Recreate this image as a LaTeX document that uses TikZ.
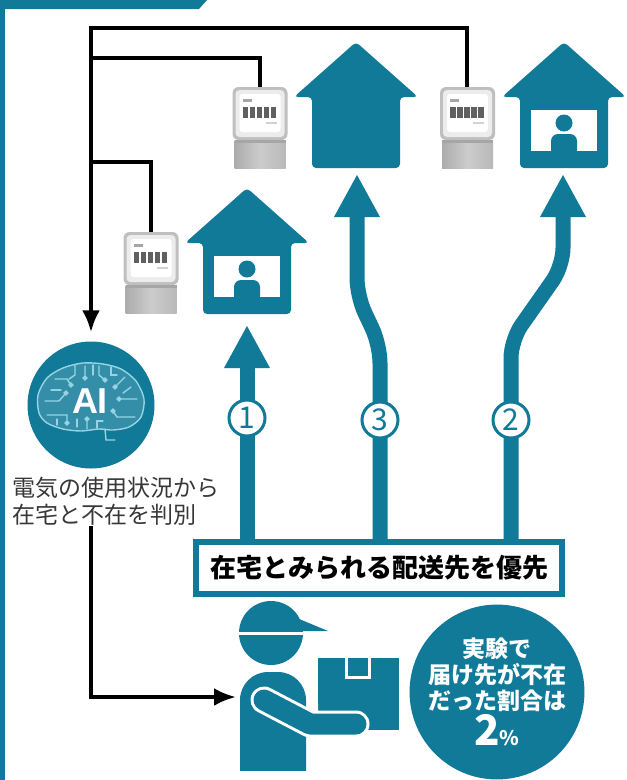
\documentclass[tikz,border=0pt]{standalone}
\usepackage{fontspec}
\usetikzlibrary{arrows.meta}

\newfontfamily\jp{Noto Sans CJK JP}
\newfontfamily\latin{Liberation Sans}

\definecolor{mainteal}{RGB}{16,122,152}
\definecolor{circuit}{RGB}{150,212,228}
\definecolor{inkgray}{RGB}{55,55,55}

\begin{document}
\begin{tikzpicture}[x = 1pt, y = -1pt, > = {Latex[length=22pt, width=18pt]},
	wire/.style = {draw = black, line width = 4pt},
	flow/.style = {draw = mainteal, line width = 15pt, rounded corners = 18pt},
	num/.style = {circle, draw = mainteal, line width = 3pt, fill = white, text = mainteal,
		minimum size = 36pt, inner sep = 0pt, font = \jp\fontsize{30}{30}\selectfont},
	brain/.style = {draw = circuit, line width = 1.4pt, line cap = round},
	house/.pic = {
		\fill [mainteal, rounded corners = 4pt] (0, 0) -- (62, 55) -- (44, 55) -- (44, 126)
			-- (-44, 126) -- (-44, 55) -- (-62, 55) -- cycle;
	},
	home/.pic = {
		\pic {house};
		\fill [white] (-33, 68) rectangle (33, 109);
		\fill [mainteal] (0, 81) circle (8.5pt);
		\fill [mainteal, rounded corners = 7pt] (-13, 115) rectangle (13, 92);
	},
	meter/.pic = {
		\fill [gray!50, rounded corners = 6pt] (-27, 0) rectangle (28, 53);
		\fill [gray!15, rounded corners = 4pt] (-24, 3) rectangle (25, 50);
		\fill [white, rounded corners = 3pt] (-20, 7) rectangle (21, 45);
		\fill [gray!70] (-17, 12) rectangle (-8, 15);
		\foreach \d in {0, 1, ..., 4}
			\fill [gray!75!black] ({-17 + 7 * \d}, 20) rectangle ++(5.5, 11);
		\fill [gray!35] (6, 35) rectangle (17, 37);
		\shade [left color = gray!65, right color = gray!55, middle color = gray!40] (-25, 53) rectangle (26, 81);
		\fill [gray!70] (-25, 53) rectangle (26, 56);
	}]

	% Frame

	\useasboundingbox (0, 0) rectangle (627, 780);
	\fill [white] (0, 0) rectangle (627, 780);
	\fill [mainteal] (0, 0) -- (207, 0) -- (199, 9) -- (0, 9) -- cycle;
	\fill [mainteal] (0, 0) rectangle (5, 780);

	% Anchors for the wiring

	\coordinate (mA) at (259.5, 89);
	\coordinate (mB) at (467, 89);
	\coordinate (mC) at (150.5, 234);
	\coordinate (top1) at (0, 28);
	\coordinate (top2) at (0, 58);
	\coordinate (top3) at (0, 162);

	% AI

	\node [circle, fill = mainteal, minimum size = 127pt, inner sep = 0pt] (ai) at (91, 405) {};

	\begin{scope}[shift = {(ai.center)}]
		\fill [mainteal!85!white] plot [smooth cycle] coordinates {(-52, 8) (-53, -10) (-44, -27) (-28, -37)
			(-8, -42) (12, -41) (30, -36) (45, -24) (53, -6) (50, 12) (38, 22) (22, 25)
			(8, 24) (-10, 26) (-28, 24) (-44, 18)};
		\draw [brain] plot [smooth cycle] coordinates {(-52, 8) (-53, -10) (-44, -27) (-28, -37)
			(-8, -42) (12, -41) (30, -36) (45, -24) (53, -6) (50, 12) (38, 22) (22, 25)
			(8, 24) (-10, 26) (-28, 24) (-44, 18)};
		\draw [brain] (14, 24) -- (15, 35) -- (24, 35);
		\draw [brain] (-46, -4) -- (-32, -4) -- (-25, -12) circle (1.8pt);
		\draw [brain] (-44, 10) -- (-24, 10) -- (-24, 18) circle (1.8pt);
		\draw [brain] (-36, -26) -- (-24, -26) -- (-20, -20) circle (1.8pt);
		\draw [brain] (-40, -15) -- (-30, -15);
		\draw [brain] (-16, -40) -- (-16, -30) -- (-22, -26);
		\draw [brain] (-6, -39) -- (-6, -27) circle (1.8pt);
		\draw [brain] (2, -40) -- (2, -30);
		\draw [brain] (8, -39) -- (8, -30) -- (14, -25) circle (1.8pt);
		\draw [brain] (20, -38) -- (20, -30) -- (26, -30);
		\draw [brain] (34, -28) -- (24, -18) circle (1.8pt);
		\draw [brain] (46, -6) -- (28, -6) circle (1.8pt);
		\draw [brain] (40, -18) -- (32, -12);
		\draw [brain] (44, 12) -- (26, 12) -- (22, 6) circle (1.8pt);
		\draw [brain] (-4, 24) -- (-4, 14) circle (1.8pt);
		\draw [brain] (-14, 22) -- (-14, 14);
		\draw [brain] (6, 23) -- (6, 16) -- (12, 16);
		\draw [brain] (-34, 20) -- (-34, 14);
	\end{scope}

	\node [text = white, font = \latin\bfseries\fontsize{36}{36}\selectfont] (aitext) at (90, 401) {AI};

	\node [anchor = north west, align = left, text = inkgray, inner sep = 0pt,
		font = \jp\fontsize{23}{27}\selectfont] (note) at (12, 477) {電気の使用状況から\\在宅と不在を判別};

	% Meter wiring

	\draw [wire, ->, shorten >= 9pt] (mB) |- (ai |- top1) -- (ai.north);
	\draw [wire] (mA) |- (ai |- top2);
	\draw [wire] (mC) |- (ai |- top3);

	% Meters and houses

	\pic at (259.5, 87) {meter};
	\pic at (467, 87) {meter};
	\pic at (150.5, 232) {meter};

	\pic at (356, 42) {house};
	\pic at (564, 42) {home};
	\pic at (247, 188) {home};

	% Delivery routes

	\coordinate (tip1) at (247, 326);
	\coordinate (tip3) at (357, 175);
	\coordinate (tip2) at (563, 175);
	\coordinate (s3a) at (380, 345);
	\coordinate (s3b) at (357, 296);
	\coordinate (s2a) at (511, 340);
	\coordinate (s2b) at (563, 266);

	\node [draw = mainteal, line width = 6pt, fill = white, minimum width = 366pt, minimum height = 52pt,
		inner sep = 0pt, font = \jp\bfseries\fontsize{26}{26}\selectfont] (prio) at (379, 568) {};

	\draw [flow, shorten >= 30pt] (prio.north -| tip1) -- (tip1);
	\draw [flow, shorten >= 30pt] (prio.north -| s3a) -- (s3a) -- (s3b) -- (tip3);
	\draw [flow, shorten >= 30pt] (prio.north -| s2a) -- (s2a) -- (s2b) -- (tip2);

	\foreach \tip in {tip1, tip2, tip3}
		\fill [mainteal] (\tip) -- ++(-23, 42) -- ++(46, 0) -- cycle;

	\node [num] (n1) at (247, 418) {1};
	\node [num] (n3) at (380, 420) {3};
	\node [num] (n2) at (511, 420) {2};

	\node [draw = mainteal, line width = 6pt, fill = white, minimum width = 366pt, minimum height = 52pt,
		inner sep = 0pt, font = \jp\bfseries\fontsize{26}{26}\selectfont] at (prio) {在宅とみられる配送先を優先};

	% Courier

	\coordinate (courier) at (236, 697);
	\draw [wire, ->] (note.south -| ai) |- (courier);

	\fill [mainteal] (271, 633) circle (32pt);
	\fill [mainteal] (292, 616) -- (328, 631) -- (292, 631) -- cycle;
	\draw [white, line width = 3pt] (236, 633) -- (332, 633);

	\begin{scope}
		\clip (230, 660) rectangle (320, 770);
		\fill [mainteal, rounded corners = 28pt] (240, 672) rectangle (306, 830);
	\end{scope}

	\fill [mainteal] (318, 658) rectangle (399, 730);
	\draw [white, line width = 3pt] (346, 658) |- (369, 677) -- (369, 658);
	\fill [white, rounded corners = 2pt] (312, 702) rectangle (318, 716);

	\draw [white, line width = 27pt, line cap = round, line join = round] (264, 700) -- (310, 724) -- (356, 724);
	\draw [mainteal, line width = 21pt, line cap = round, line join = round] (264, 700) -- (310, 724) -- (356, 724);

	% Share of absent deliveries

	\node [circle, fill = mainteal, minimum size = 168pt, inner sep = 0pt, text = white, align = center,
		font = \jp\bfseries\fontsize{23}{26}\selectfont] (rate) at (497, 692)
		{実験で\\届け先が不在\\だった割合は\\[2pt]{\fontsize{42}{42}\selectfont 2}{\fontsize{20}{20}\selectfont\%}};

\end{tikzpicture}
\end{document}
